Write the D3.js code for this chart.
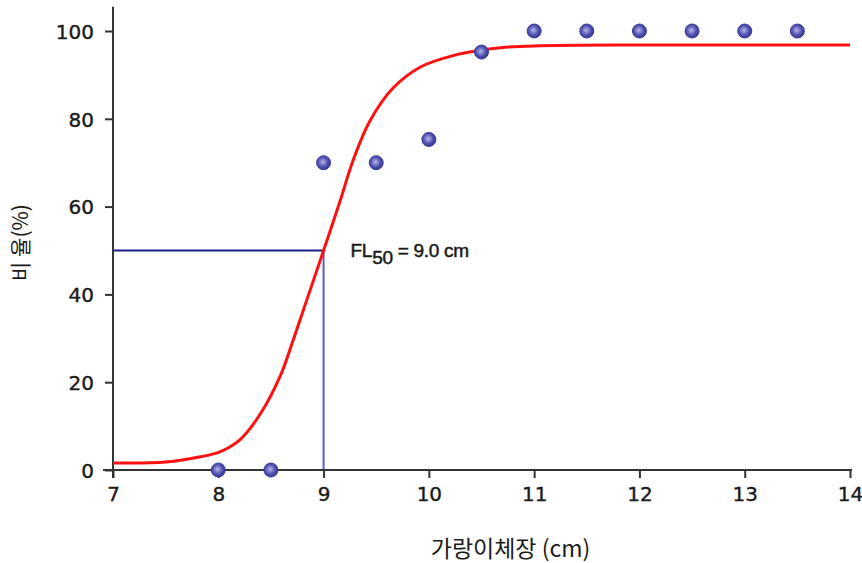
<!DOCTYPE html>
<html>
<head>
<meta charset="utf-8">
<script src="https://cdn.jsdelivr.net/npm/d3@7/dist/d3.min.js"></script>
<style>
  html, body { margin: 0; padding: 0; background: #fff; }
  svg { display: block; }
</style>
</head>
<body>
<script>
// ---- data ----
const obsLength = [8, 8.5, 9, 9.5, 10, 10.5, 11, 11.5, 12, 12.5, 13, 13.5];
const obsRatio  = [0, 0, 70, 70, 75.3, 95.2, 100, 100, 100, 100, 100, 100];
const curveLength = [7, 7.5, 7.83, 8.02, 8.21, 8.40, 8.59, 8.71, 8.84, 9.0, 9.16, 9.28, 9.44, 9.66, 9.92, 10.23, 10.49, 10.68, 11, 12, 13, 14];
const curveRatio  = [1.6, 1.8, 3.0, 4.2, 7.0, 12.8, 21.5, 29.5, 38.7, 50, 61.5, 70.5, 79.5, 87.0, 91.8, 94.4, 95.6, 96.2, 96.6, 96.8, 96.8, 96.8];
const xTicks = [7, 8, 9, 10, 11, 12, 13, 14];
const yTicks = [0, 20, 40, 60, 80, 100];
const fl50 = 9.0;
const fl50Ratio = 50;
const xTitle = "가랑이체장 (cm)";
const yTitle = "비 율(%)";

// ---- layout ----
const W = 862, H = 563;
const svg = d3.select("body").append("svg").attr("width", W).attr("height", H);
const x = d3.scaleLinear().domain([7, 14]).range([113, 850]);
const y = d3.scaleLinear().domain([0, 100]).range([470, 31]);
const tickFont = "'DejaVu Sans', sans-serif";

// reference lines
svg.append("line")
  .attr("x1", x(7)).attr("x2", x(fl50))
  .attr("y1", y(fl50Ratio)).attr("y2", y(fl50Ratio))
  .attr("stroke", "#1c1c8a").attr("stroke-width", 2);
svg.append("line")
  .attr("x1", x(fl50)).attr("x2", x(fl50))
  .attr("y1", y(fl50Ratio)).attr("y2", y(0))
  .attr("stroke", "#5a5acc").attr("stroke-width", 2);

// axes
const xAxis = svg.append("g").attr("transform", `translate(0,${y(0)})`)
  .call(d3.axisBottom(x).tickValues(xTicks).tickSize(8).tickSizeOuter(0).tickFormat(d3.format("d")));
const yAxis = svg.append("g").attr("transform", `translate(${x(7)},0)`)
  .call(d3.axisLeft(y).tickValues(yTicks).tickSize(8).tickSizeOuter(0).tickFormat(d3.format("d")));
[xAxis, yAxis].forEach(g => {
  g.select(".domain").remove();
  g.selectAll(".tick line").attr("stroke", "#333").attr("stroke-width", 2);
  g.selectAll(".tick text").attr("fill", "#1a1a1a")
    .attr("stroke", "#1a1a1a").attr("stroke-width", 0.4)
    .style("font-family", tickFont).style("font-size", "20px");
});
xAxis.selectAll(".tick text").attr("dy", "1.0em");
yAxis.selectAll(".tick text").attr("x", -19).attr("dy", "0.36em");

// axis lines (extended as in the reference)
svg.append("line")
  .attr("x1", x(7) - 10).attr("x2", x(14) + 2)
  .attr("y1", y(0)).attr("y2", y(0))
  .attr("stroke", "#333").attr("stroke-width", 2);
svg.append("line")
  .attr("x1", x(7)).attr("x2", x(7))
  .attr("y1", y(0) + 8).attr("y2", y(105.5))
  .attr("stroke", "#333").attr("stroke-width", 2);

// fitted curve
const pts = curveLength.map((d, i) => [d, curveRatio[i]]);
svg.append("path")
  .datum(pts)
  .attr("fill", "none")
  .attr("stroke", "#ff1010")
  .attr("stroke-width", 3)
  .attr("d", d3.line().x(d => x(d[0])).y(d => y(d[1])).curve(d3.curveCatmullRom.alpha(0.5)));

// gradient for dots
const defs = svg.append("defs");
const grad = defs.append("radialGradient").attr("id", "dotg").attr("cx", "45%").attr("cy", "45%").attr("r", "60%");
grad.append("stop").attr("offset", "0%").attr("stop-color", "#b8b8e8");
grad.append("stop").attr("offset", "55%").attr("stop-color", "#5456b4");
grad.append("stop").attr("offset", "100%").attr("stop-color", "#2c2f8e");

// observations
svg.append("g").selectAll("circle")
  .data(obsLength.map((d, i) => [d, obsRatio[i]]))
  .join("circle")
  .attr("cx", d => x(d[0]))
  .attr("cy", d => y(d[1]))
  .attr("r", 7)
  .attr("fill", "url(#dotg)")
  .attr("stroke", "#3a3c9c")
  .attr("stroke-width", 1);

// annotation
const ann = svg.append("text")
  .attr("x", x(fl50) + 27).attr("y", y(fl50Ratio) + 6)
  .style("font-family", "'Liberation Sans', Arial, sans-serif")
  .style("font-size", "19px")
  .attr("fill", "#1a1a1a")
  .attr("stroke", "#1a1a1a").attr("stroke-width", 0.5)
  .attr("letter-spacing", "-0.3");
ann.append("tspan").text("FL");
ann.append("tspan").attr("dy", 7).text("50");
ann.append("tspan").attr("dy", -7).text(" = 9.0 cm");

// axis titles
svg.append("text")
  .attr("x", (x(7) + x(14)) / 2 + 29).attr("y", 557)
  .attr("text-anchor", "middle")
  .style("font-family", "'Noto Sans CJK KR', sans-serif")
  .style("font-size", "23px")
  .attr("fill", "#1a1a1a")
  .text(xTitle);
svg.append("text")
  .attr("transform", `translate(28,${y(50) - 8}) rotate(-90)`)
  .attr("text-anchor", "middle")
  .style("font-family", "'Noto Sans CJK KR', sans-serif")
  .style("font-size", "21px")
  .attr("fill", "#1a1a1a")
  .text(yTitle);
</script>
</body>
</html>
